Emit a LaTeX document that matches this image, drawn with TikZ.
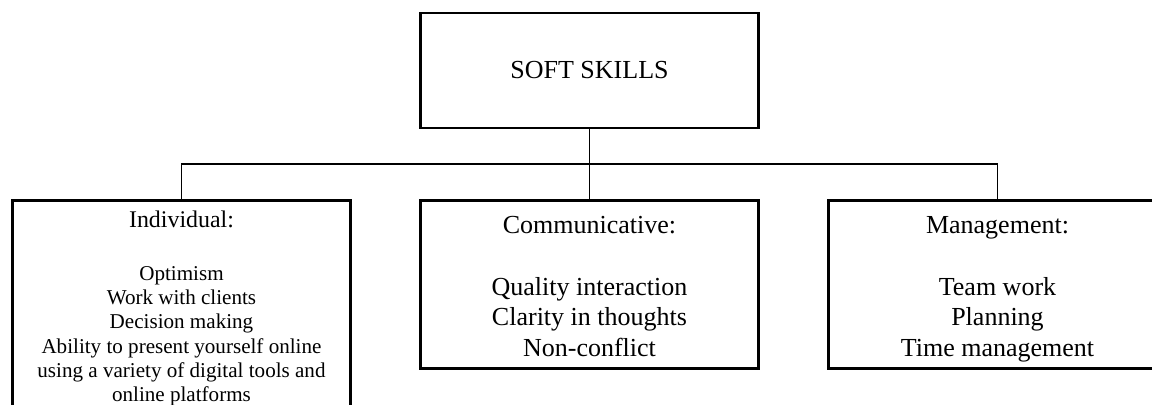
\documentclass[tikz,border=0pt]{standalone}
\usepackage{fontspec}
\setmainfont{Liberation Serif}
\usetikzlibrary{positioning}

\begin{document}
\begin{tikzpicture}[%
  level distance=2.57cm,sibling distance=8.16cm,
  every node/.style={draw=black,line width=1.5pt,align=flush center,
    inner xsep=0.18cm,text width=6.4cm,
    font=\fontsize{14.8}{17.3}\selectfont},
  group/.style={anchor=north,minimum height=3.36cm},
  edge from parent/.style={draw,line width=1.1pt},
  edge from parent path={(\tikzparentnode.south) -- ++(0,-0.7cm) -| (\tikzchildnode.north)}]
  \useasboundingbox (-11.79,1.41) rectangle (11.25,-6.67);
  \node[minimum height=2.3cm] (skills) {SOFT SKILLS}
  child {node[group,minimum height=4.3cm,font=\fontsize{12}{13.85}\selectfont] (indiv)
    {{\fontsize{13.6}{16}\selectfont\rule{0pt}{12pt}Individual:}\\[16.2pt]
     Optimism\\ Work with clients\\ Decision making\\
     Ability to present yourself online\\ using a variety of digital tools and\\
     online platforms\rule[-5.2pt]{0pt}{5.2pt}}}
  child {node[group] (comm)
    {\rule{0pt}{15pt}Communicative:\\[17.9pt] Quality interaction\\ Clarity in thoughts\\
     Non-conflict\rule[-3.1pt]{0pt}{3.1pt}}}
  child {node[group] (mgmt)
    {\rule{0pt}{15pt}Management:\\[17.9pt] Team work\\ Planning\\
     Time management\rule[-3.1pt]{0pt}{3.1pt}}};
\end{tikzpicture}
\end{document}
